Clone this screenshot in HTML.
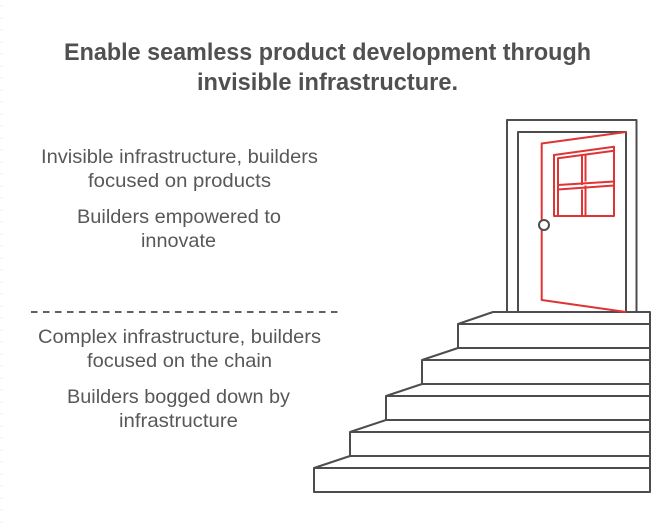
<!DOCTYPE html>
<html><head><meta charset="utf-8"><style>
html,body{margin:0;padding:0;background:#fff;width:670px;height:532px;overflow:hidden}
svg{display:block}
text{font-family:"Liberation Sans",sans-serif;fill:#585858;font-size:19.5px}
.t{font-weight:bold;font-size:24px;fill:#505050}
</style></head><body>
<svg width="670" height="532" viewBox="0 0 670 532" xmlns="http://www.w3.org/2000/svg">
<line x1="1.5" y1="5" x2="1.5" y2="532" stroke="#ececec" stroke-width="1" stroke-dasharray="2 10"/>
<text class="t" x="64" y="60" textLength="527" lengthAdjust="spacingAndGlyphs">Enable seamless product development through</text>
<text class="t" x="197" y="90" textLength="261" lengthAdjust="spacingAndGlyphs">invisible infrastructure.</text>
<text x="41" y="163" textLength="277" lengthAdjust="spacingAndGlyphs">Invisible infrastructure, builders</text>
<text x="88" y="187" textLength="183" lengthAdjust="spacingAndGlyphs">focused on products</text>
<text x="77" y="223" textLength="204" lengthAdjust="spacingAndGlyphs">Builders empowered to</text>
<text x="141" y="247" textLength="75" lengthAdjust="spacingAndGlyphs">innovate</text>
<text x="38" y="343" textLength="283" lengthAdjust="spacingAndGlyphs">Complex infrastructure, builders</text>
<text x="87" y="367" textLength="185" lengthAdjust="spacingAndGlyphs">focused on the chain</text>
<text x="67" y="403" textLength="223" lengthAdjust="spacingAndGlyphs">Builders bogged down by</text>
<text x="119" y="427" textLength="119" lengthAdjust="spacingAndGlyphs">infrastructure</text>
<line x1="31" y1="312" x2="338" y2="312" stroke="#4a4a4a" stroke-width="1.7" stroke-dasharray="6.5 5.5"/>
<g fill="none" stroke="#4d4d4d" stroke-width="2" stroke-linejoin="round">
<path d="M507 312V120H636.5V312"/>
<path d="M518 312V132H626V312"/>
<path d="M458 324L493 312H650V492H314V468L350 456V432L386 420V396L422 384V360L458 348Z"/>
<path d="M314 468H650M350 456H650M350 432H650M386 420H650M386 396H650M422 384H650M422 360H650M458 348H650M458 324H650"/>
</g>
<g fill="none" stroke="#e03434" stroke-width="2" stroke-linejoin="round">
<path d="M626 132L541.7 143.5V300L626 312"/>
<path d="M554 155L614 146.7V216H554Z"/>
<path d="M558 216V158.3L614 150.7"/>
<path d="M582 155V185M582 189.5V216M585.5 154V181.5M585.5 185.5V216"/>
<path d="M558 185L614 181.5M558 189.5L614 185.5"/>
</g>
<circle cx="544" cy="225" r="5" fill="#fff" stroke="#4d4d4d" stroke-width="2"/>
</svg>
</body></html>
